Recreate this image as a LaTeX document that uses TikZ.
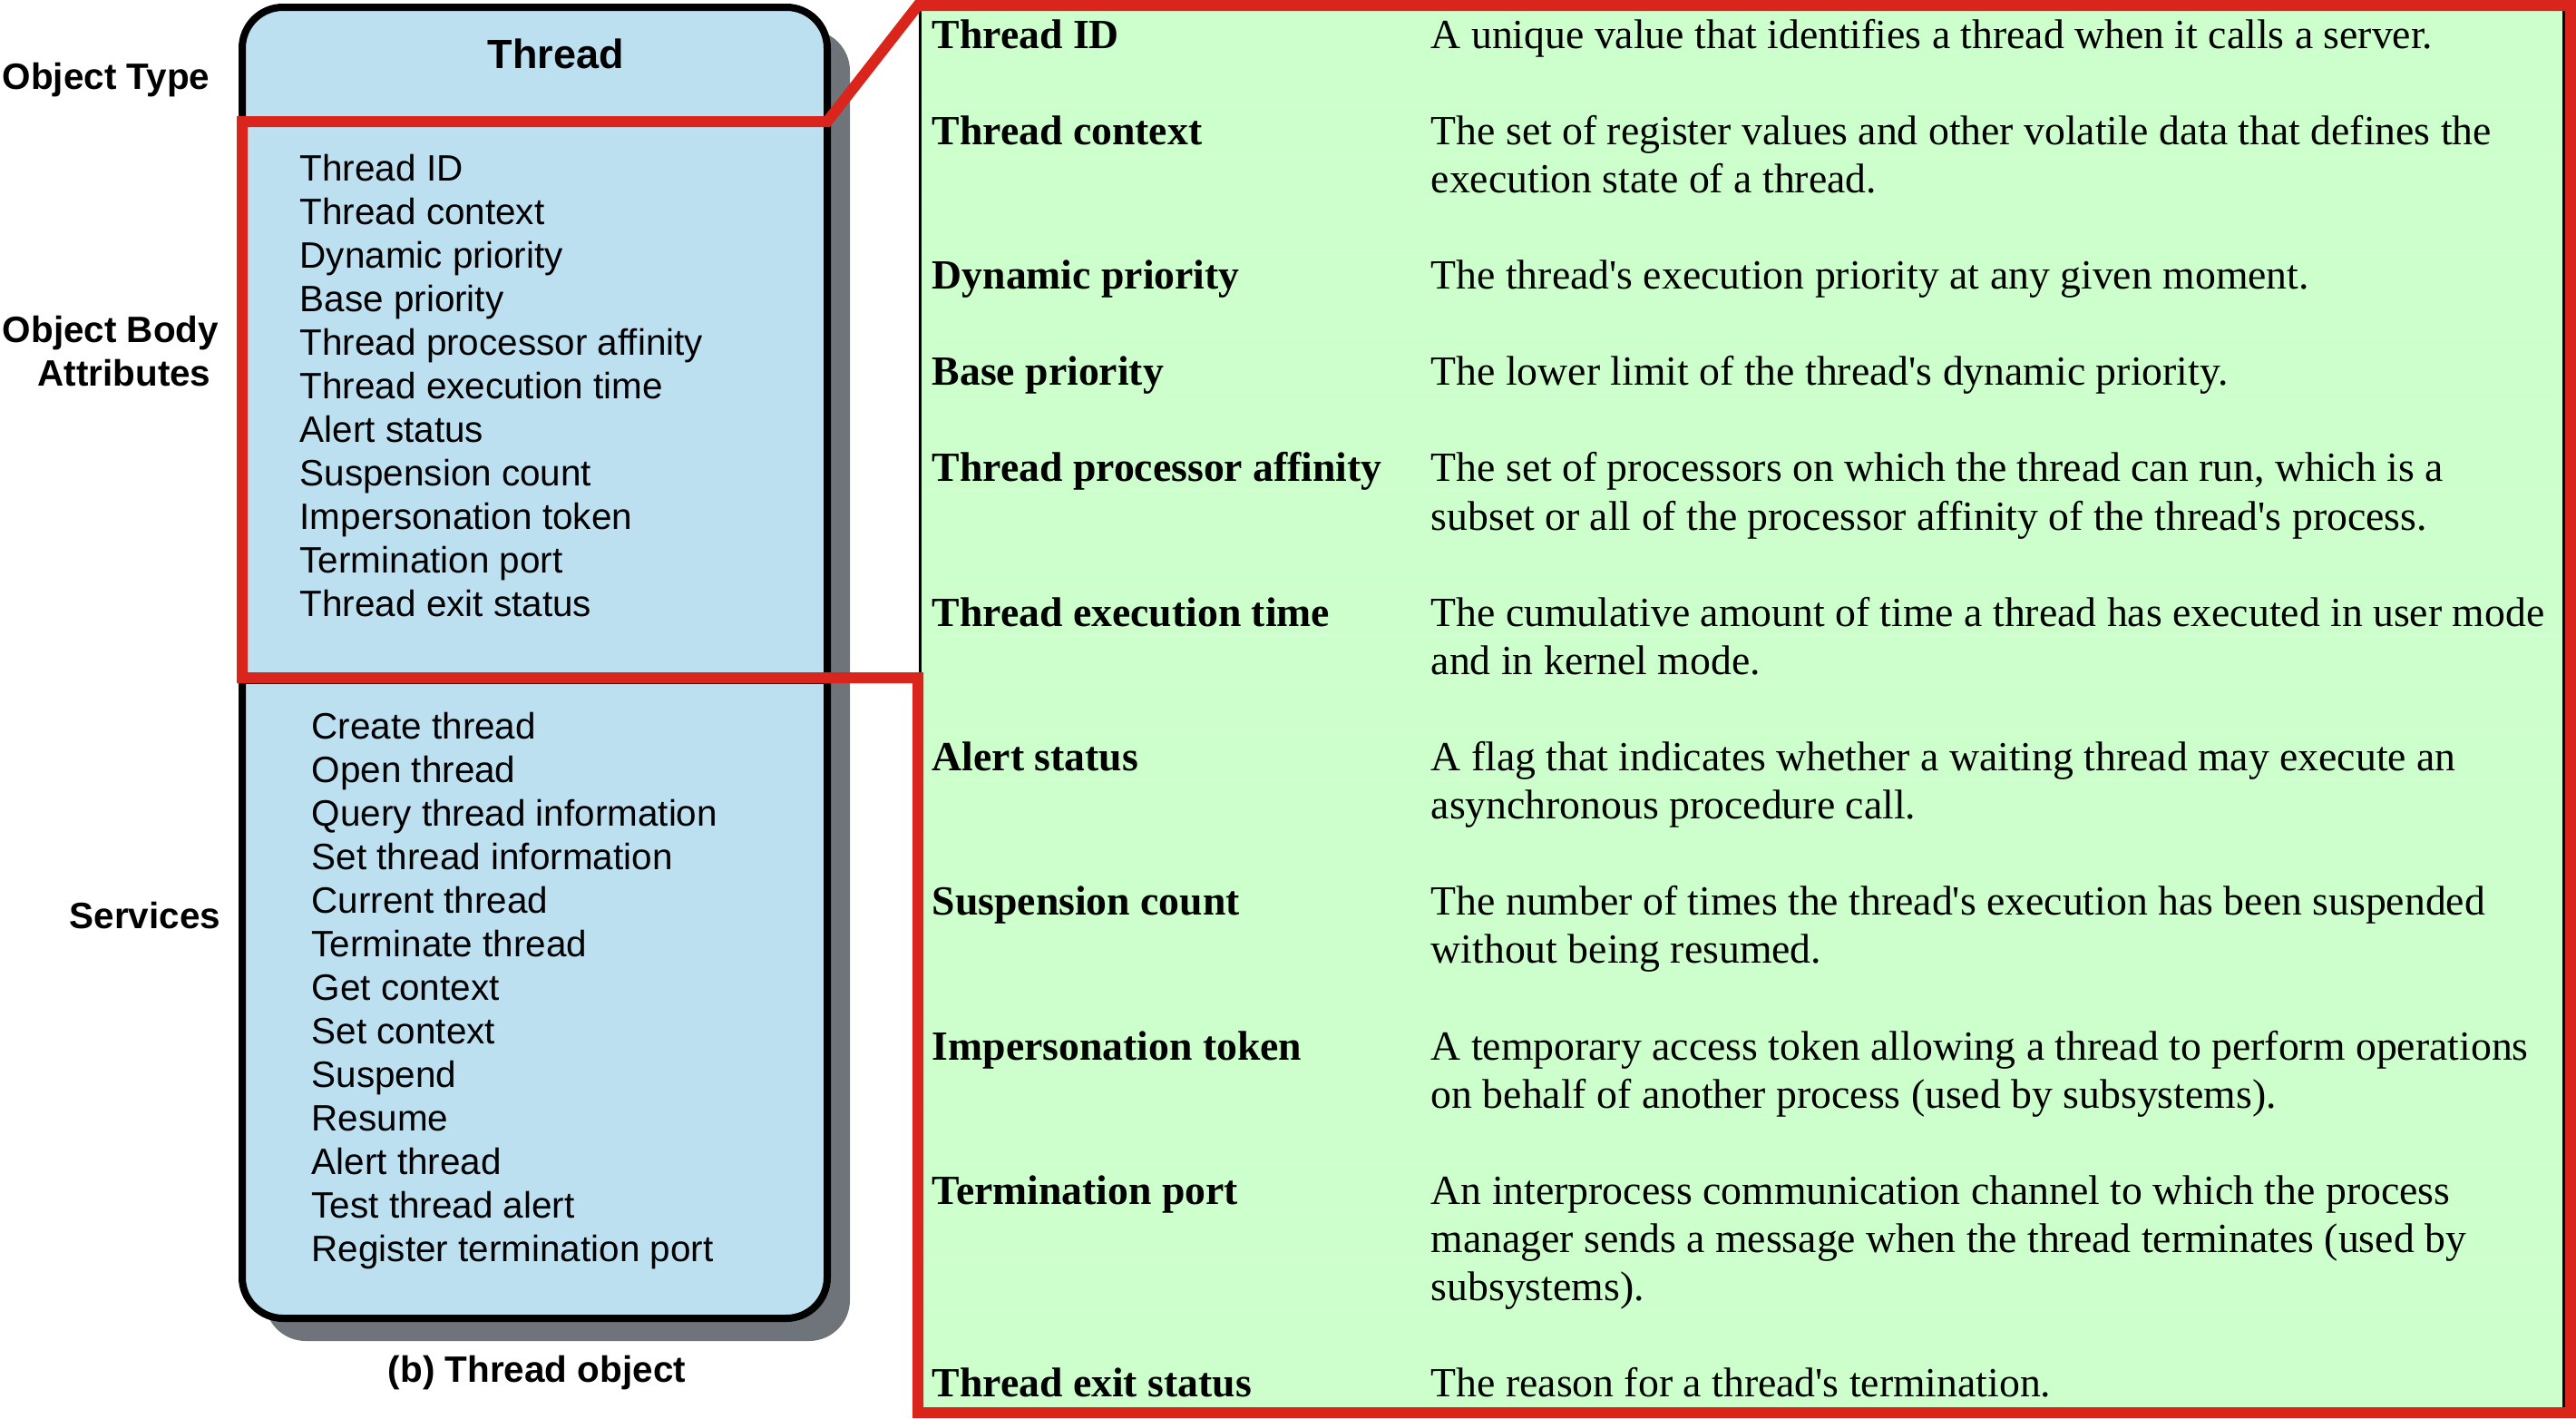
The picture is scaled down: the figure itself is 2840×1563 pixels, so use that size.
\documentclass[tikz,border=0pt]{standalone}
\usepackage{fontspec}
\setmainfont{Liberation Serif}
\setsansfont{Liberation Sans}
\usepackage{tikz}
\definecolor{boxblue}{RGB}{189,224,241}
\definecolor{shadowgray}{RGB}{110,116,121}
\definecolor{panelgreen}{RGB}{204,255,204}
\definecolor{rowgreen}{RGB}{211,255,211}
\definecolor{outlinered}{RGB}{218,37,29}
\newcommand{\apos}{\textquotesingle}

\begin{document}
\begin{tikzpicture}[x=0.01cm,y=-0.01cm,
    sidelabel/.style={anchor=base,inner sep=0,font=\sffamily\bfseries\fontsize{11.5}{13}\selectfont},
    attritem/.style={anchor=base west,inner sep=0,font=\sffamily\fontsize{11.5}{13}\selectfont},
    term/.style={anchor=base west,inner sep=0,font=\bfseries\fontsize{13}{15.11}\selectfont},
    desc/.style={anchor=base west,inner sep=0,align=left,font=\fontsize{13}{15.11}\selectfont}]
  \useasboundingbox (0,0) rectangle (2840,1563);

  \fill[shadowgray,rounded corners=0.45cm] (292,33) rectangle (937,1478);
  \draw[fill=boxblue,line width=0.08cm,rounded corners=0.45cm] (267,8) rectangle (912,1453);
  \draw[line width=0.08cm] (267,134) -- (912,134);
  \draw[line width=0.08cm] (267,750) -- (912,750);
  \node[sidelabel,font=\sffamily\bfseries\fontsize{12.8}{14}\selectfont] (title) at (613,75) {Thread};

  \draw[fill=panelgreen,line width=0.03cm] (1014,6) rectangle (2826,1557);
  \foreach \k in {0,...,27}
    \draw[rowgreen,line width=0.01cm] (1016,{63+53.1*\k}) -- (2824,{63+53.1*\k});

  \draw[outlinered,line width=0.12cm] (267,134) -- (912,134) -- (1012,6) -- (2834,6)
    -- (2834,1557) -- (1012,1557) -- (1012,747) -- (267,747) -- cycle;

  \node[sidelabel] (otype) at (117,98) {Object Type};
  \node[sidelabel] (obody) at (122,377) {Object Body};
  \node[sidelabel] (oattr) at (137,425) {Attributes};
  \node[sidelabel] (oserv) at (160,1023) {Services};
  \node[sidelabel] (caption) at (592,1523) {(b) Thread object};

  \foreach \a [count=\i from 0] in {Thread ID, Thread context, Dynamic priority,
      Base priority, Thread processor affinity, Thread execution time, Alert status,
      Suspension count, Impersonation token, Termination port, Thread exit status}
    \node[attritem] (attr\i) at (330,{199+48*\i}) {\a};

  \foreach \s [count=\i from 0] in {Create thread, Open thread, Query thread information,
      Set thread information, Current thread, Terminate thread, Get context, Set context,
      Suspend, Resume, Alert thread, Test thread alert, Register termination port}
    \node[attritem] (serv\i) at (343,{814+48*\i}) {\s};

  \foreach \k/\n/\trm/\dsc in {
      0/0/Thread ID/{A unique value that identifies a thread when it calls a server.},
      2/1/Thread context/{The set of register values and other volatile data that defines the\\execution state of a thread.},
      5/0/Dynamic priority/{The thread\apos s execution priority at any given moment.},
      7/0/Base priority/{The lower limit of the thread\apos s dynamic priority.},
      9/1/Thread processor affinity/{The set of processors on which the thread can run, which is a\\subset or all of the processor affinity of the thread\apos s process.},
      12/1/Thread execution time/{The cumulative amount of time a thread has executed in user mode\\and in kernel mode.},
      15/1/Alert status/{A flag that indicates whether a waiting thread may execute an\\asynchronous procedure call.},
      18/1/Suspension count/{The number of times the thread\apos s execution has been suspended\\without being resumed.},
      21/1/Impersonation token/{A temporary access token allowing a thread to perform operations\\on behalf of another process (used by subsystems).},
      24/2/Termination port/{An interprocess communication channel to which the process\\manager sends a message when the thread terminates (used by\\subsystems).},
      28/0/Thread exit status/{The reason for a thread\apos s termination.}}
  {
    \node[term] (term\k) at (1027,{53+53.1*\k}) {\trm};
    \node[desc] (desc\k) at (1577,{53+53.1*(\k+\n)}) {\dsc};
  }
\end{tikzpicture}
\end{document}
